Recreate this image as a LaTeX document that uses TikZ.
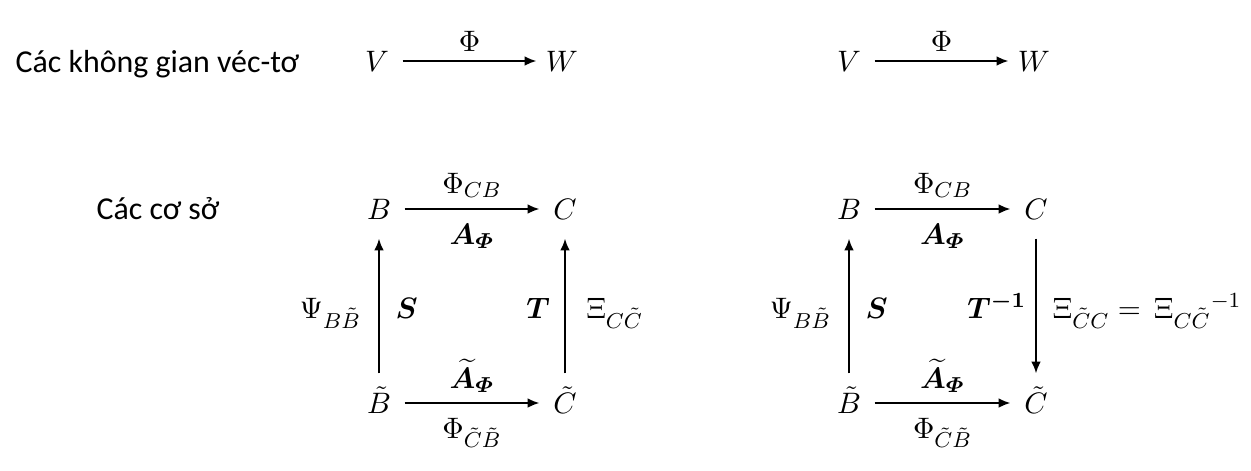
\documentclass[tikz,border=0pt]{standalone}
\usepackage{amsmath,bm}
\usepackage{fontspec}
\newfontfamily\calibri{Carlito}
\usetikzlibrary{arrows.meta}
\begin{document}
\begin{tikzpicture}[x=0.37pt,y=-0.37pt,
  txt/.style={font=\calibri\fontsize{11.8}{14}\selectfont, inner sep=0pt},
  m/.style={font=\fontsize{10.95}{13}\selectfont, inner sep=0pt, text height=8pt, text depth=0pt},
  hnode/.style={m, minimum width=18.5pt, minimum height=21.5pt},
  arr/.style={line width=0.72pt, -{Latex[length=4.4pt,width=3.6pt]}},
  lab/.style={font=\fontsize{10.95}{13}\selectfont, inner sep=0pt},
  abv/.style={lab, anchor=base, yshift=#1},
  lft/.style={lab, anchor=base east, xshift=-#1, yshift=-4.6pt},
  rgt/.style={lab, anchor=base west, xshift=#1, yshift=-4.6pt}
]
\useasboundingbox (0,0) rectangle (1251,470);

% top row
\node[txt, anchor=base west] (t1) at (15,72) {Các không gian véc-tơ};
\node[hnode] (V1) at (377,61) {$V$};
\node[hnode] (W1) at (562,61) {$W$};
\draw[arr] (V1) -- (W1) node[abv=3.4pt, midway] (l1) {$\Phi$};

\node[hnode] (V2) at (849,61) {$V$};
\node[hnode] (W2) at (1034,61) {$W$};
\draw[arr] (V2) -- (W2) node[abv=3.4pt, midway] (l2) {$\Phi$};

% bases label
\node[txt, anchor=base west] (t2) at (96,219) {Các cơ sở};

% left diagram
\node[hnode] (B1) at (379,209) {$B$};
\node[hnode] (C1) at (565,209) {$C$};
\node[hnode] (Bt1) at (379,403) {$\tilde B$};
\node[hnode] (Ct1) at (565,403) {$\tilde C$};
\draw[arr] (B1) -- (C1)
  node[abv=5.9pt, midway] (a1) {$\Phi_{CB}$}
  node[abv=-13pt, midway] (b1) {$\bm{A_{\varPhi}}$};
\draw[arr] (Bt1) -- (Ct1)
  node[abv=5.5pt, midway] (c1) {$\widetilde{\bm{A}}_{\bm{\varPhi}}$}
  node[abv=-13pt, midway] (d1) {$\Phi_{\tilde C\tilde B}$};
\draw[arr] (Bt1) -- (B1)
  node[lft=6.3pt, midway] (e1) {$\Psi_{B\tilde B}$}
  node[rgt=5.8pt, midway] (f1) {$\bm{S}$};
\draw[arr] (Ct1) -- (C1)
  node[lft=5.2pt, midway] (g1) {$\bm{T}$}
  node[rgt=7.5pt, midway] (h1) {$\Xi_{C\tilde C}$};

% right diagram
\node[hnode] (B2) at (849,209) {$B$};
\node[hnode] (C2) at (1036,209) {$C$};
\node[hnode] (Bt2) at (849,403) {$\tilde B$};
\node[hnode] (Ct2) at (1036,403) {$\tilde C$};
\draw[arr] (B2) -- (C2)
  node[abv=5.9pt, midway] (a2) {$\Phi_{CB}$}
  node[abv=-13pt, midway] (b2) {$\bm{A_{\varPhi}}$};
\draw[arr] (Bt2) -- (Ct2)
  node[abv=5.5pt, midway] (c2) {$\widetilde{\bm{A}}_{\bm{\varPhi}}$}
  node[abv=-13pt, midway] (d2) {$\Phi_{\tilde C\tilde B}$};
\draw[arr] (Bt2) -- (B2)
  node[lft=6.3pt, midway] (e2) {$\Psi_{B\tilde B}$}
  node[rgt=5.8pt, midway] (f2) {$\bm{S}$};
\draw[arr] (C2) -- (Ct2)
  node[lft=3.3pt, midway] (g2) {$\bm{T^{-1}}$}
  node[rgt=5.8pt, midway] (h2) {$\Xi_{\tilde C C} = \,\Xi_{C\tilde C}{}^{-1}$};
\end{tikzpicture}
\end{document}
